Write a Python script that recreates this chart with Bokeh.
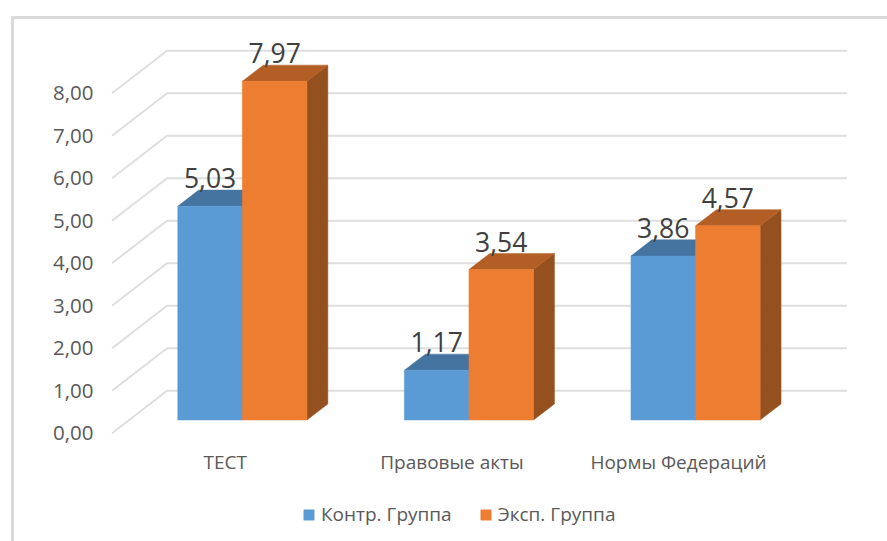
from bokeh.plotting import figure
from bokeh.embed import file_html
from bokeh.resources import INLINE
from bokeh.core.properties import value
from bokeh.models import FixedTicker, Legend, LegendItem

categories = ["ТЕСТ", "Правовые акты", "Нормы Федераций"]
control_group = [5.03, 1.17, 3.86]
experiment_group = [7.97, 3.54, 4.57]
tick_values = [0, 1, 2, 3, 4, 5, 6, 7, 8]
tick_labels = ["0,00", "1,00", "2,00", "3,00", "4,00", "5,00", "6,00", "7,00", "8,00"]
series_names = ["Контр. Группа", "Эксп. Группа"]

FONT = "Open Sans"
CAT_PX = 226.6
UNIT_PX = 42.5
X0_PAGE, Y0_PAGE = 111.5, 432.7
FRAME_L, FRAME_T, FRAME_W, FRAME_H = 110, 30, 750, 505
DX = 55 / CAT_PX          # oblique shift of the full depth, in category units
DY = 1.0                  # oblique shift of the full depth, in value units
Z_FRONT, Z_BACK = 0.31, 0.69
BAR_W = 0.285
RULE = "linear-gradient(#d9d9d9,#d9d9d9)"


def proj(x, y, z):
    return x + z * DX, y + z * DY


x_start = (FRAME_L - X0_PAGE) / CAT_PX
y_start = (Y0_PAGE - (FRAME_T + FRAME_H)) / UNIT_PX
p = figure(
    output_backend="svg", toolbar_location=None, x_axis_location=None,
    x_range=(x_start, x_start + FRAME_W / CAT_PX),
    y_range=(y_start, y_start + FRAME_H / UNIT_PX),
    frame_width=FRAME_W, frame_height=FRAME_H,
    min_border_left=FRAME_L, min_border_top=FRAME_T,
    min_border_right=887 - FRAME_L - FRAME_W, min_border_bottom=541 - FRAME_T - FRAME_H,
    background_fill_color=None, border_fill_color=None,
    styles={"background": f"{RULE} 11px 16px/3px 100% no-repeat, {RULE} 11px 16px/100% 3px no-repeat"},
)
p.outline_line_color = None
p.grid.visible = False

n_cat = len(categories)
gx, gy = [], []
for t in tick_values:
    xa, ya = proj(0, t, 0)
    xb, yb = proj(0, t, 1)
    xc, yc = proj(n_cat, t, 1)
    gx.append([xa, xb, xc])
    gy.append([ya, yb, yc])
p.multi_line(gx, gy, line_color="#dedede", line_width=2)


def bar_faces(i, offset, v):
    left = i + 0.5 + offset
    right = left + BAR_W
    corners = lambda pts: ([proj(a, b, c)[0] for a, b, c in pts], [proj(a, b, c)[1] for a, b, c in pts])
    front = corners([(left, 0, Z_FRONT), (right, 0, Z_FRONT), (right, v, Z_FRONT), (left, v, Z_FRONT)])
    top = corners([(left, v, Z_FRONT), (right, v, Z_FRONT), (right, v, Z_BACK), (left, v, Z_BACK)])
    side = corners([(right, 0, Z_FRONT), (right, 0, Z_BACK), (right, v, Z_BACK), (right, v, Z_FRONT)])
    return front, top, side


def draw_series(vals, offset, col_front, col_top, col_side):
    fr, to, si = [], [], []
    for i, v in enumerate(vals):
        a, b, c = bar_faces(i, offset, v)
        fr.append(a); to.append(b); si.append(c)
    for faces, col in ((si, col_side), (to, col_top)):
        p.patches([f[0] for f in faces], [f[1] for f in faces], fill_color=col, line_color=col, line_width=0.5)
    return p.patches([f[0] for f in fr], [f[1] for f in fr], fill_color=col_front, line_color=col_front, line_width=0.5)


r_blue = draw_series(control_group, -BAR_W, "#5B9BD5", "#44749F", "#3B6890")
r_orange = draw_series(experiment_group, 0, "#ED7D31", "#B35E25", "#955020")

lx, ly, lt = [], [], []
for vals, offset in ((control_group, -BAR_W), (experiment_group, 0)):
    for i, v in enumerate(vals):
        x, y = proj(i + 0.5 + offset + BAR_W / 2, v, Z_FRONT)
        lx.append(x); ly.append(y); lt.append(f"{v:.2f}".replace(".", ","))
p.text(lx, ly, text=lt, text_font=value(FONT), text_font_size="26.5px", text_color="#404040",
       text_align="center", text_baseline="alphabetic", y_offset=-28)

ya = p.yaxis[0]
ya.ticker = FixedTicker(ticks=tick_values)
ya.major_label_overrides = dict(zip(tick_values, tick_labels))
ya.axis_line_color = None
ya.major_tick_line_color = None
ya.minor_tick_line_color = None
ya.major_label_standoff = 11
ya.major_label_text_font = FONT
ya.major_label_text_font_size = "20.5px"
ya.major_label_text_color = "#595959"

# category labels sit in the front plane, under the floor
cat_pos = [i + 0.5 for i in range(n_cat)]
p.text(cat_pos, [0] * n_cat, text=categories, text_font=value(FONT), text_font_size="19px",
       text_color="#595959", text_align="center", text_baseline="middle", y_offset=28.5)

legend = Legend(
    items=[LegendItem(label=series_names[0], renderers=[r_blue]),
           LegendItem(label=series_names[1], renderers=[r_orange])],
    orientation="horizontal", location=(192, 8), border_line_color=None,
    background_fill_alpha=0, glyph_width=13, glyph_height=13, label_text_font=FONT,
    label_text_font_size="19px", label_text_color="#595959", spacing=27, label_standoff=6,
    padding=0, margin=0,
)
p.add_layout(legend, "center")

open("out.html", "w").write(file_html(p, INLINE))
